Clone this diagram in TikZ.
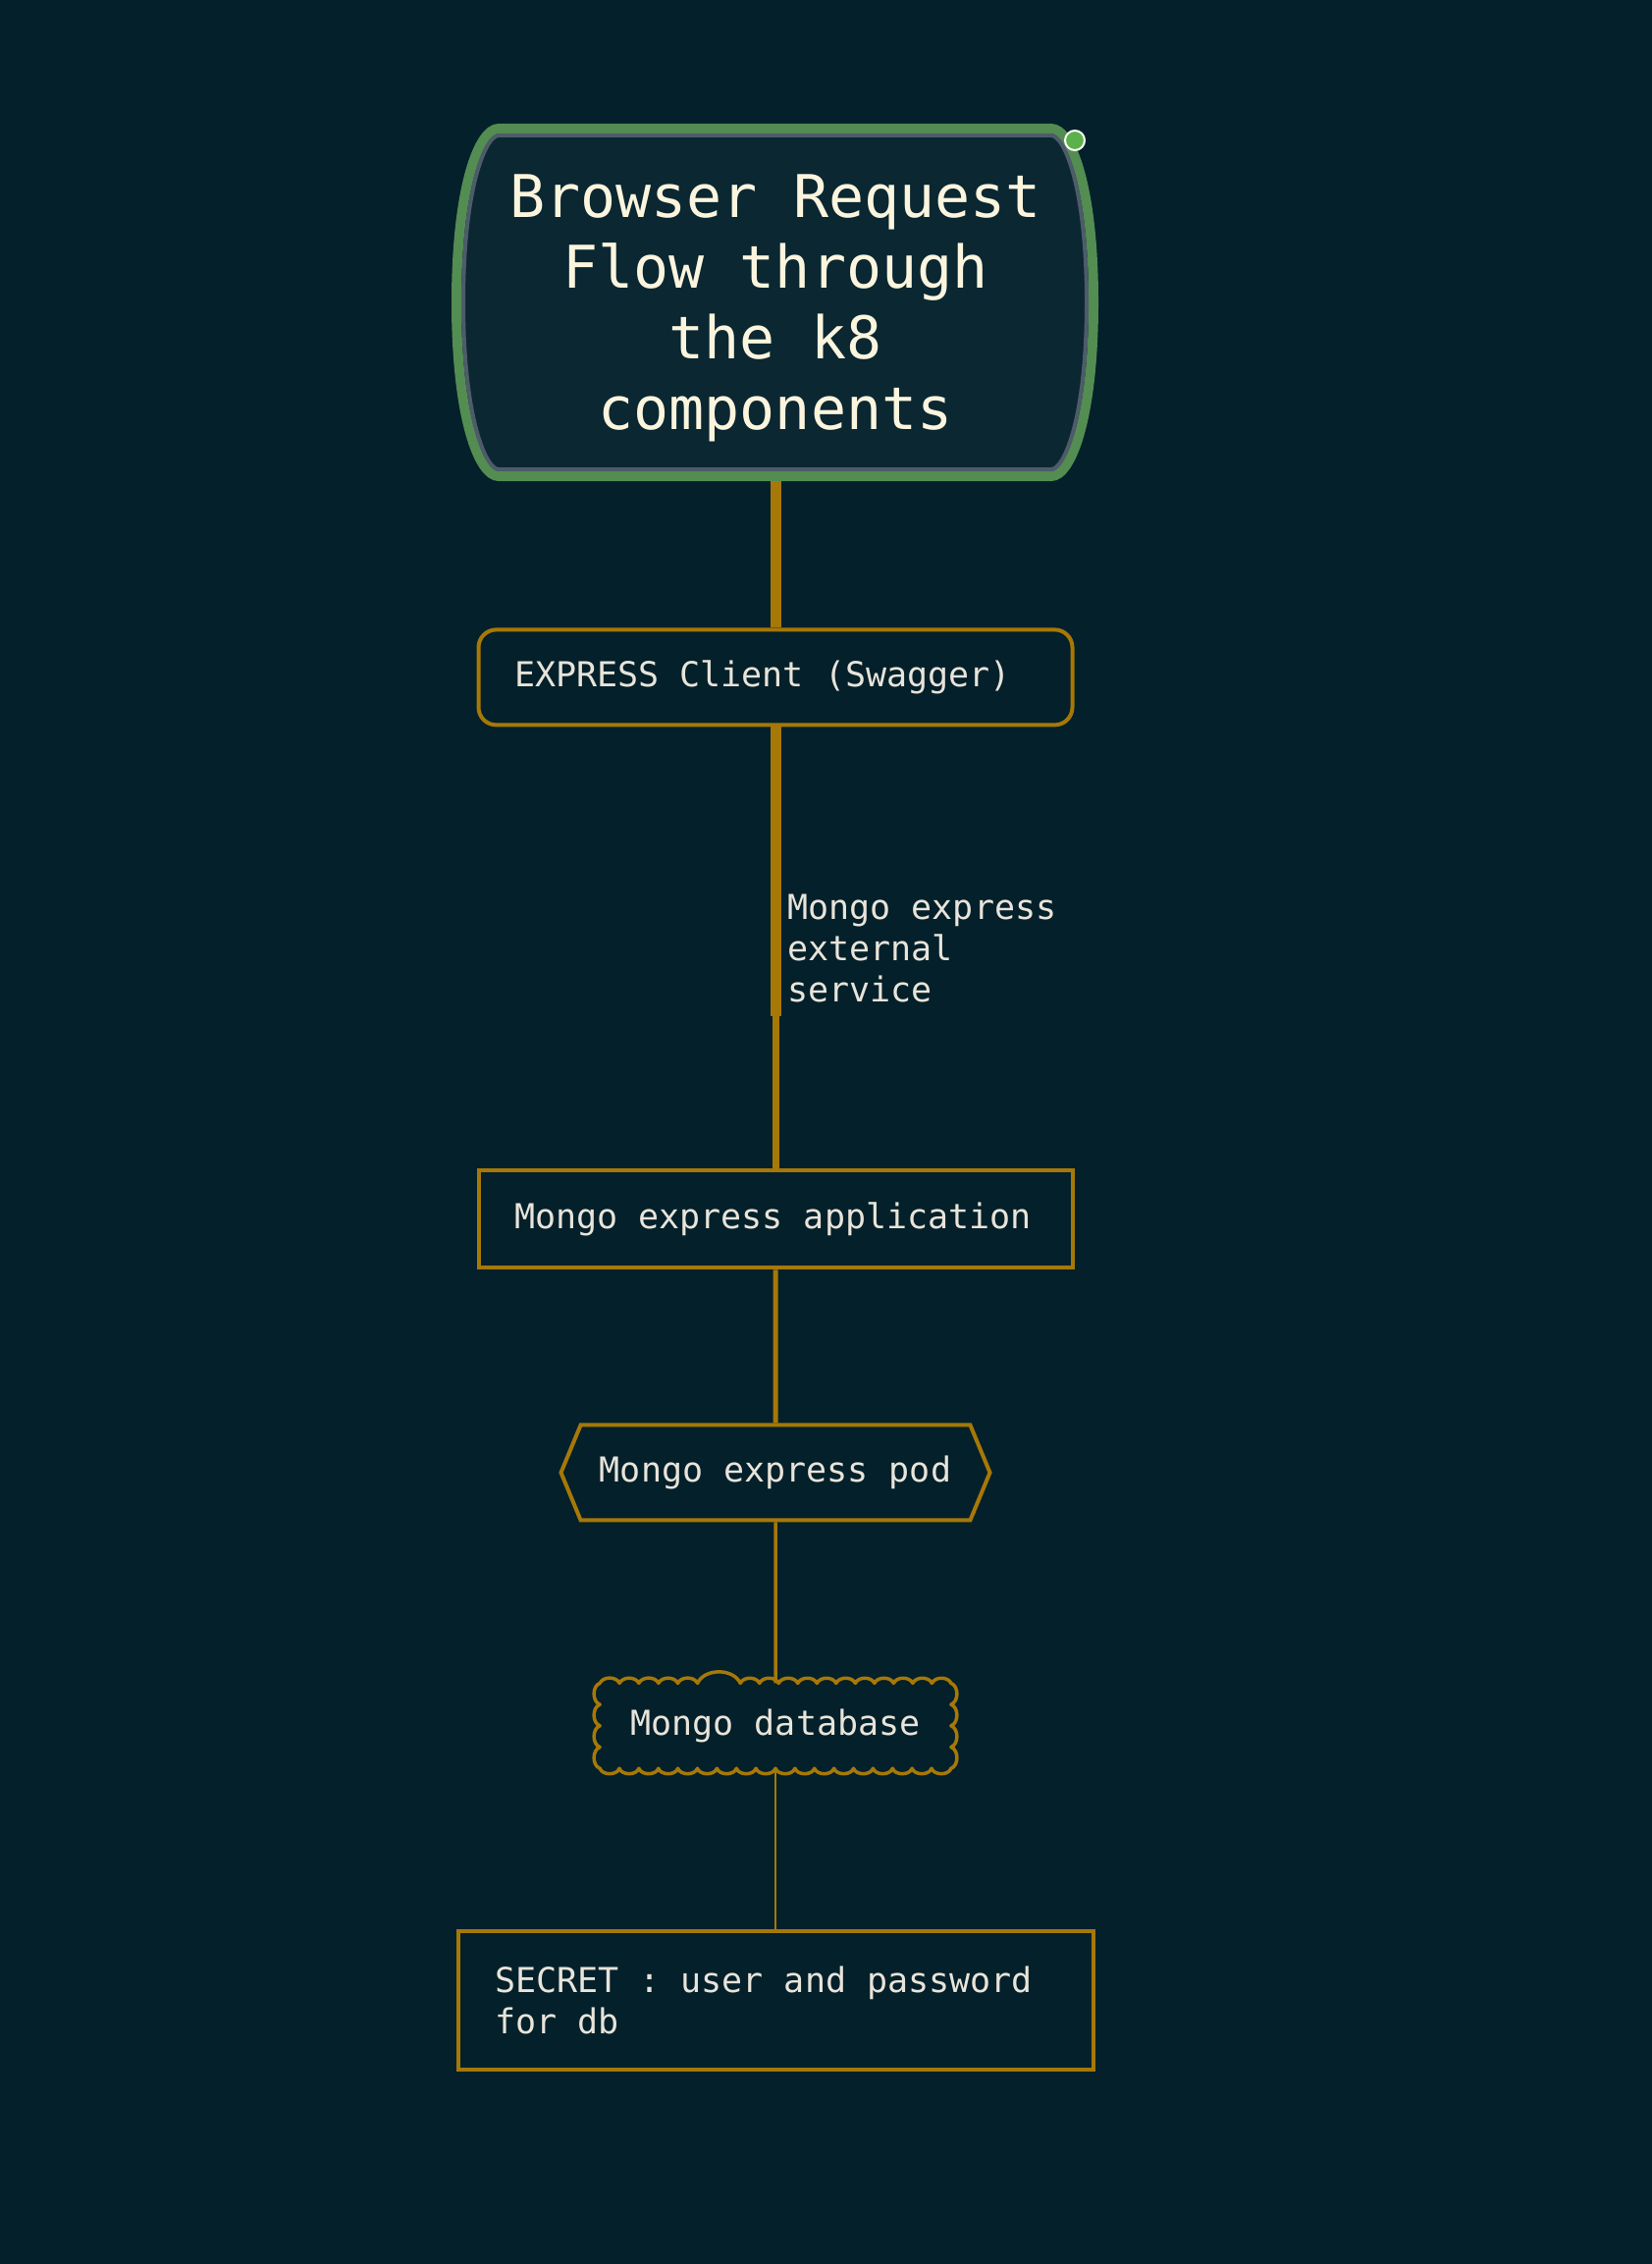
\documentclass[tikz,border=0pt]{standalone}
\usepackage{fontspec}
\newfontfamily\monofont[WordSpace={1,0,0}]{DejaVu Sans Mono}
\usetikzlibrary{positioning,shapes.symbols,calc}

\definecolor{bgnavy}{HTML}{04202A}
\definecolor{titlefill}{HTML}{0A2732}
\definecolor{rimgreen}{HTML}{538D52}
\definecolor{rimgray}{HTML}{4D5C68}
\definecolor{k8gold}{HTML}{A67808}
\definecolor{titletext}{HTML}{FCF5DE}
\definecolor{nodetext}{HTML}{E8E4DA}
\definecolor{dotgreen}{HTML}{5CB24A}

% outline of the title box, #1 = inset in px
\newcommand\titlerim[1]{(508,126+#1) -- (1071,126+#1)
  .. controls (1096-#1,126+#1) and (1119-#1,190) .. (1119-#1,308)
  .. controls (1119-#1,426) and (1096-#1,490-#1) .. (1071,490-#1) -- (508,490-#1)
  .. controls (483+#1,490-#1) and (460+#1,426) .. (460+#1,308)
  .. controls (460+#1,190) and (483+#1,126+#1) .. (508,126+#1) -- cycle}

\begin{document}
\begin{tikzpicture}[x=0.5pt, y=-0.5pt, node distance=80pt,
    every node/.style={font=\fontsize{17.5pt}{21pt}\selectfont\monofont, text=nodetext},
    plainleft/.style={align=flush left, execute at begin node={\spaceskip=0pt\xspaceskip=0pt}},
    stepbox/.style={draw=k8gold, line width=2pt, fill=bgnavy, minimum width=302.5pt,
                    text width=266pt, plainleft, inner sep=0pt}]
      \useasboundingbox (0,0) rectangle (1682,2306);
      \fill[bgnavy] (-10,-10) rectangle (1692,2316);
      % title
      \fill[titlefill] \titlerim{12};
      \draw[rimgreen, line width=5pt] \titlerim{5};
      \draw[rimgray, line width=2pt] \titlerim{12};
      \node[minimum width=329.5pt, minimum height=176pt, align=center, text=titletext,
            font=\fontsize{30pt}{36pt}\selectfont\monofont] (title) at (790,314)
            {Browser Request\\Flow through\\the k8\\components};
      \node[circle, draw=white, line width=1pt, fill=dotgreen, minimum size=10pt, inner sep=0pt] (dot) at (1095,143) {};
      % chain
      \node[stepbox, rounded corners=9pt, minimum height=48.5pt, below=74.5pt of title] (client) {EXPRESS Client (Swagger)};
      \coordinate[below=147.5pt of client] (svcend);
      \node[stepbox, minimum height=49.5pt, below=225pt of client] (app) {Mongo express application};
      \node[draw=k8gold, line width=2pt, fill=bgnavy, signal, signal to=east and west, signal pointer angle=135,
            minimum width=218.5pt, minimum height=48.5pt, below=78pt of app] (pod) {Mongo express pod};
      \node[minimum width=178.5pt, minimum height=43pt, below=82pt of pod] (db) {Mongo database};
      \node[stepbox, text width=286pt, minimum width=323.5pt, minimum height=70.5pt, below=82pt of db] (secret)
            {SECRET : user and password\\for db};
      % cloud outline round db
      \draw[k8gold, line width=1.75pt, line join=round] (db.north west)
        \foreach \f in {0.056,0.111,0.167,0.222,0.278,0.4,0.4545,0.5091,0.5636,0.6182,0.6727,0.7273,0.7818,0.8364,0.8909,0.9455,1}
          {to[bend left=65] ($(db.north west)!\f!(db.north east)$)}
        \foreach \i in {1,...,4} {to[bend left=70] ($(db.north east)!\i/4!(db.south east)$)}
        \foreach \i in {1,...,18} {to[bend left=70] ($(db.south east)!\i/18!(db.south west)$)}
        \foreach \i in {1,...,4} {to[bend left=70] ($(db.south west)!\i/4!(db.north west)$)};
      \draw[k8gold, line width=5.5pt] (title) -- (client);
      \draw[k8gold, line width=5.5pt] (client) -- (svcend);
      \draw[k8gold, line width=3.5pt] (svcend) -- (app);
      \draw[k8gold, line width=2.5pt] (app) -- (pod);
      \draw[k8gold, line width=1.75pt] (pod) -- (db);
      \draw[k8gold, line width=0.75pt] (db) -- (secret);
      \node[anchor=south west, inner sep=0pt, plainleft] (svc) at ([xshift=6pt, yshift=7pt]svcend)
            {Mongo express\\external\\service};
    \end{tikzpicture}
\end{document}
